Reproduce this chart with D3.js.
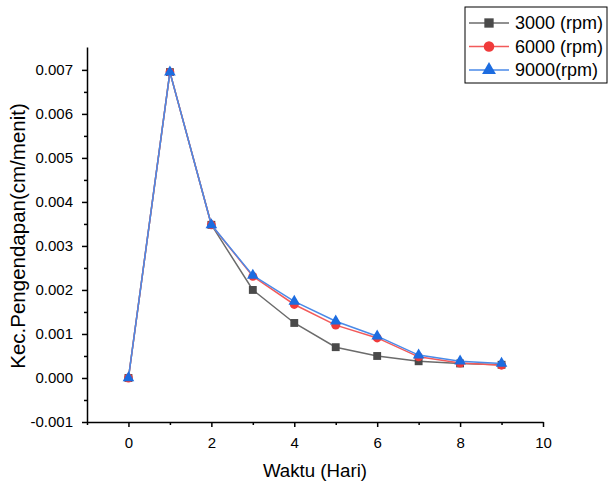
<!DOCTYPE html>
<html>
<head>
<meta charset="utf-8">
<script src="https://cdn.jsdelivr.net/npm/d3@7"></script>
<style>
  body { margin: 0; background: #fff; }
  text { font-family: Arial, "Liberation Sans", sans-serif; }
</style>
</head>
<body>
<script>
// data
var days = [0, 1, 2, 3, 4, 5, 6, 7, 8, 9];
var rpm3000 = [0, 0.00695, 0.00348, 0.00200, 0.00125, 0.00070, 0.00050, 0.00038, 0.00033, 0.00030];
var rpm6000 = [0, 0.00695, 0.00348, 0.00231, 0.00167, 0.00120, 0.00091, 0.00048, 0.00034, 0.00029];
var rpm9000 = [0, 0.00695, 0.00348, 0.00233, 0.00174, 0.00129, 0.00095, 0.00052, 0.00038, 0.00033];
var seriesNames = ["3000 (rpm)", "6000 (rpm)", "9000(rpm)"];
var xTicks = [0, 2, 4, 6, 8, 10];
var yTicks = [-0.001, 0, 0.001, 0.002, 0.003, 0.004, 0.005, 0.006, 0.007];

var width = 611, height = 484;
var margin = {top: 47, right: 68, bottom: 62, left: 87};

var svg = d3.select("body").append("svg")
  .attr("width", width)
  .attr("height", height);

var x = d3.scaleLinear().domain([-1, 10]).range([margin.left, width - margin.right]);
var y = d3.scaleLinear().domain([-0.001, 0.00752]).range([height - margin.bottom, margin.top]);

// axes (major + minor ticks)
var xAxis = svg.append("g")
  .attr("transform", "translate(0," + (height - margin.bottom) + ")")
  .call(d3.axisBottom(x).tickValues(xTicks).tickFormat(d3.format("d")).tickSize(5).tickSizeOuter(0));
svg.append("g")
  .attr("transform", "translate(0," + (height - margin.bottom) + ")")
  .call(d3.axisBottom(x).tickValues([-1, 1, 3, 5, 7, 9]).tickFormat("").tickSize(3).tickSizeOuter(0))
  .select(".domain").remove();

var yFmt = function(d) { return d3.format(".3f")(d).replace("\u2212", "-"); };
var yAxis = svg.append("g")
  .attr("transform", "translate(" + margin.left + ",0)")
  .call(d3.axisLeft(y).tickValues(yTicks).tickFormat(yFmt).tickSize(5).tickSizeOuter(0));
svg.append("g")
  .attr("transform", "translate(" + margin.left + ",0)")
  .call(d3.axisLeft(y).tickValues(d3.range(-0.0005, 0.0075, 0.001)).tickFormat("").tickSize(3).tickSizeOuter(0))
  .select(".domain").remove();

svg.selectAll(".domain").attr("stroke", "#000").attr("stroke-width", 1.5);
svg.selectAll(".tick line").attr("stroke", "#000").attr("stroke-width", 1.5);
svg.selectAll(".tick text").attr("font-size", 15).attr("fill", "#000")
  .attr("font-family", "Arial, 'Liberation Sans', sans-serif");
xAxis.selectAll(".tick text").attr("y", 26).attr("dy", 0);
yAxis.selectAll(".tick text").attr("x", -14);

// axis titles
svg.append("text")
  .attr("x", 315).attr("y", 477)
  .attr("text-anchor", "middle").attr("font-size", 18.7)
  .text("Waktu (Hari)");
svg.append("text")
  .attr("transform", "translate(24.5,236) rotate(-90)")
  .attr("text-anchor", "middle").attr("font-size", 20.5)
  .text("Kec.Pengendapan(cm/menit)");

// series
var series = [
  {name: seriesNames[0], values: rpm3000, line: "#6b6b6b", fill: "#4a4a4a", shape: d3.symbolSquare, size: 62},
  {name: seriesNames[1], values: rpm6000, line: "#f25a5a", fill: "#f03b3b", shape: d3.symbolCircle, size: 62},
  {name: seriesNames[2], values: rpm9000, line: "#4a8ae8", fill: "#1c6ce0", shape: d3.symbolTriangle, size: 58}
];

var line = d3.line()
  .x(function(d, i) { return x(days[i]); })
  .y(function(d) { return y(d); });

series.forEach(function(s) {
  svg.append("path")
    .datum(s.values)
    .attr("fill", "none")
    .attr("stroke", s.line)
    .attr("stroke-width", 1.5)
    .attr("d", line);
  svg.selectAll(null)
    .data(s.values)
    .enter()
    .append("path")
    .attr("d", d3.symbol().type(s.shape).size(s.size))
    .attr("transform", function(d, i) { return "translate(" + x(days[i]) + "," + y(d) + ")"; })
    .attr("fill", s.fill);
});

// legend
var legend = svg.append("g");
legend.append("rect")
  .attr("x", 465).attr("y", 7).attr("width", 142).attr("height", 76)
  .attr("fill", "#fff").attr("stroke", "#000").attr("stroke-width", 1);
series.forEach(function(s, i) {
  var ly = 23 + i * 23.5;
  legend.append("line")
    .attr("x1", 469).attr("x2", 509).attr("y1", ly).attr("y2", ly)
    .attr("stroke", s.line).attr("stroke-width", 1.5);
  legend.append("path")
    .attr("d", d3.symbol().type(s.shape).size(s.size + 25))
    .attr("transform", "translate(489," + ly + ")")
    .attr("fill", s.fill);
  legend.append("text")
    .attr("x", 515).attr("y", ly).attr("dy", "0.35em")
    .attr("font-size", 18)
    .text(s.name);
});
</script>
</body>
</html>
